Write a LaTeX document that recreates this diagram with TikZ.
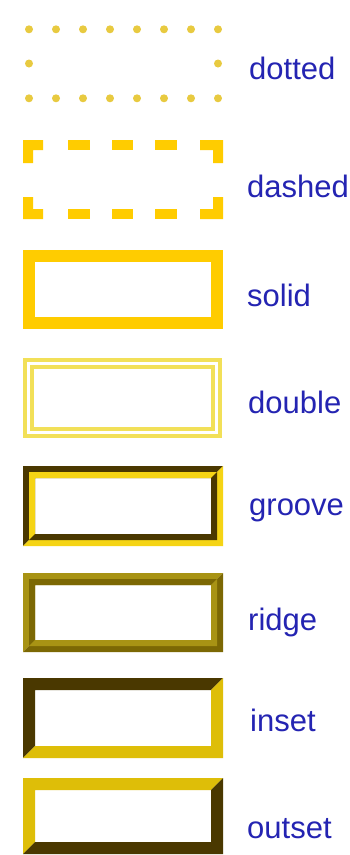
\documentclass[tikz,border=0pt]{standalone}
\usepackage{fontspec}
\setmainfont{Liberation Sans}

\definecolor{gold}{RGB}{255,204,0}
\definecolor{dotgold}{RGB}{232,202,64}
\definecolor{palegold}{RGB}{242,224,88}
\definecolor{brown}{RGB}{74,56,0}
\definecolor{bright}{RGB}{245,212,21}
\definecolor{olive}{RGB}{168,147,20}
\definecolor{darkolive}{RGB}{124,104,4}
\definecolor{insetgold}{RGB}{222,190,8}
\definecolor{labelblue}{RGB}{36,36,178}

% outer box x1,y1,x2,y2, width, top-left colour, bottom-right colour
\newcommand{\bevelframe}[7]{%
  \fill[#6] (#1,#4) -- (#1,#2) -- (#3,#2) -- ({#3-#5},{#2+#5}) -- ({#1+#5},{#2+#5}) -- ({#1+#5},{#4-#5}) -- cycle;
  \fill[#7] (#3,#2) -- (#3,#4) -- (#1,#4) -- ({#1+#5},{#4-#5}) -- ({#3-#5},{#4-#5}) -- ({#3-#5},{#2+#5}) -- cycle;
}

\begin{document}
\begin{tikzpicture}[x=1pt,y=-1pt,
    lbl/.style={anchor=base west,inner sep=0pt,text=labelblue,font=\fontsize{31}{36}\selectfont}]
  \fill[white] (0,0) rectangle (350,855);
  \useasboundingbox (0,0) rectangle (350,855);
  % dotted
  \foreach \x in {0,...,7} {
    \fill[dotgold] ({29+27*\x},29.3) circle (4);
    \fill[dotgold] ({29+27*\x},98.3) circle (4);
  }
  \fill[dotgold] (29,63.5) circle (4);
  \fill[dotgold] (218,63.5) circle (4);
  \node[lbl] (dotted) at (249,79) {dotted};
  % dashed: corners and dashes
  \fill[gold] (23,140) rectangle (43,150) (23,140) rectangle (33,163);
  \fill[gold] (223,140) rectangle (200,150) (223,140) rectangle (213,163);
  \fill[gold] (23,219) rectangle (43,209) (23,219) rectangle (33,197);
  \fill[gold] (223,219) rectangle (200,209) (223,219) rectangle (213,197);
  \foreach \x in {68.3,111.7,155} {
    \fill[gold] (\x,140) rectangle ({\x+21.7},150);
    \fill[gold] (\x,209) rectangle ({\x+21.7},219);
  }
  \node[lbl] (dashed) at (247,197) {dashed};
  % solid
  \draw[gold,line width=12pt] (29,256) rectangle (217,323);
  \node[lbl] (solid) at (247,306) {solid};
  % double
  \draw[palegold,line width=4pt] (25,360) rectangle (220,436);
  \draw[palegold,line width=4pt] (32,367) rectangle (213,429);
  \node[lbl] (double) at (248,413) {double};
  % groove
  \bevelframe{23}{466}{223}{546}{12}{brown}{bright}
  \bevelframe{29}{472}{217}{540}{6}{bright}{brown}
  \node[lbl] (groove) at (249,515) {groove};
  % ridge
  \bevelframe{23}{573}{223}{652}{12}{olive}{darkolive}
  \bevelframe{29}{579}{217}{646}{6}{darkolive}{olive}
  \node[lbl] (ridge) at (248,630) {ridge};
  % inset
  \bevelframe{23}{678}{223}{758}{12}{brown}{insetgold}
  \node[lbl] (inset) at (250,731) {inset};
  % outset
  \bevelframe{23}{778}{223}{854}{12}{insetgold}{brown}
  \node[lbl] (outset) at (247,838) {outset};
\end{tikzpicture}
\end{document}
